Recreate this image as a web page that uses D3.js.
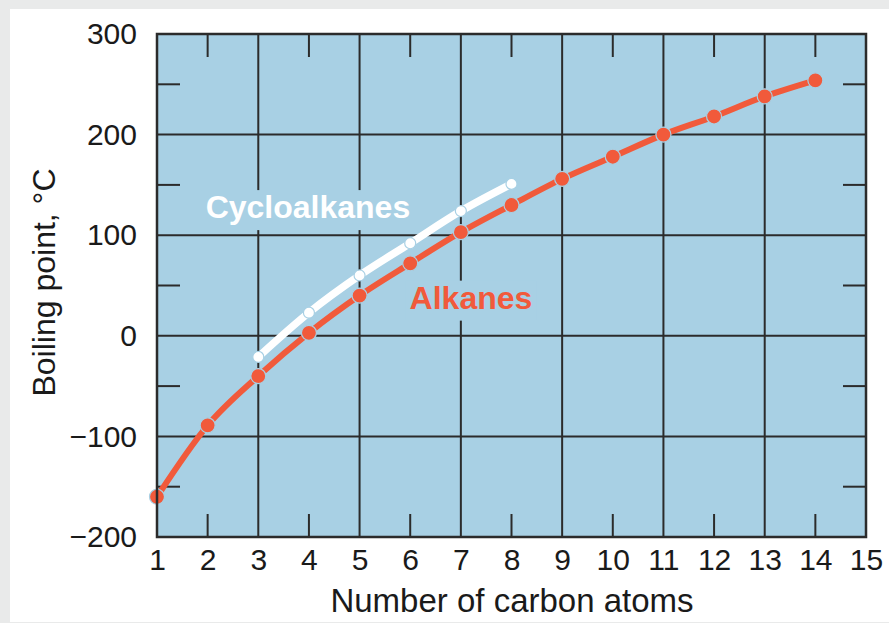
<!DOCTYPE html>
<html>
<head>
<meta charset="utf-8">
<script src="https://d3js.org/d3.v7.min.js"></script>
<style>
  body { margin: 0; background: #e9eaea; }
  svg { display: block; }
  text { font-family: "Liberation Sans", Arial, Helvetica, sans-serif; }
</style>
</head>
<body>
<svg id="chart" width="889" height="623"></svg>
<script>
// carbon counts and boiling points (deg C)
var alkaneCarbons = [1, 2, 3, 4, 5, 6, 7, 8, 9, 10, 11, 12, 13, 14];
var alkaneBoiling = [-160, -89, -40, 3, 40, 72, 103, 130, 156, 178, 200, 218, 238, 254];
var cycloCarbons = [3, 4, 5, 6, 7, 8];
var cycloBoiling = [-21, 23, 60, 92, 124, 151];

var xTickLabels = [1, 2, 3, 4, 5, 6, 7, 8, 9, 10, 11, 12, 13, 14, 15];
var yTickLabels = [300, 200, 100, 0, -100, -200];
var xGridValues = [3, 5, 7, 9, 11, 13];
var yGridValues = [200, 100, 0, -100];
var xMinorValues = [2, 4, 6, 8, 10, 12, 14];
var yMinorValues = [250, 150, 50, -50, -150];

var bgBlue = "#a8d0e4",
  gridCol = "#2b2b2b",
  red = "#f15a3b";

var svg = d3.select("#chart");

// white card on the grey page
svg.append("rect")
  .attr("x", 10).attr("y", 9)
  .attr("width", 889).attr("height", 613)
  .attr("fill", "#ffffff");

var margin = {top: 34, left: 157, right: 23, bottom: 86};
var w = 889 - margin.left - margin.right;
var h = 623 - margin.top - margin.bottom;

var xScale = d3.scaleLinear().domain([1, 15]).range([0, w]);
var yScale = d3.scaleLinear().domain([-200, 300]).range([h, 0]);

var g = svg.append("g")
  .attr("transform", "translate(" + margin.left + "," + margin.top + ")");

// plot background
g.append("rect")
  .attr("width", w).attr("height", h)
  .attr("fill", bgBlue);

// full grid lines
g.selectAll(".vgrid").data(xGridValues).enter().append("line")
  .attr("x1", d => xScale(d)).attr("x2", d => xScale(d))
  .attr("y1", 0).attr("y2", h)
  .attr("stroke", gridCol).attr("stroke-width", 2);
g.selectAll(".hgrid").data(yGridValues).enter().append("line")
  .attr("y1", d => yScale(d)).attr("y2", d => yScale(d))
  .attr("x1", 0).attr("x2", w)
  .attr("stroke", gridCol).attr("stroke-width", 2);

// short inner ticks at the half steps
var tickLen = 23;
xMinorValues.forEach(function(d) {
  g.append("line")
    .attr("x1", xScale(d)).attr("x2", xScale(d))
    .attr("y1", 0).attr("y2", tickLen)
    .attr("stroke", gridCol).attr("stroke-width", 2);
  g.append("line")
    .attr("x1", xScale(d)).attr("x2", xScale(d))
    .attr("y1", h).attr("y2", h - tickLen)
    .attr("stroke", gridCol).attr("stroke-width", 2);
});
yMinorValues.forEach(function(d) {
  g.append("line")
    .attr("y1", yScale(d)).attr("y2", yScale(d))
    .attr("x1", 0).attr("x2", tickLen)
    .attr("stroke", gridCol).attr("stroke-width", 2);
  g.append("line")
    .attr("y1", yScale(d)).attr("y2", yScale(d))
    .attr("x1", w).attr("x2", w - tickLen)
    .attr("stroke", gridCol).attr("stroke-width", 2);
});

// series labels; a blue box behind each one knocks out the grid
function seriesLabel(x, y, txt, color) {
  var box = g.append("rect").attr("fill", bgBlue);
  var t = g.append("text")
    .attr("x", x).attr("y", y)
    .attr("text-anchor", "middle")
    .attr("font-size", 32).attr("font-weight", "bold")
    .attr("fill", color)
    .text(txt);
  var bb = t.node().getBBox();
  box.attr("x", bb.x - 4).attr("y", bb.y + 1)
    .attr("width", bb.width + 8).attr("height", bb.height + 4);
}
seriesLabel(xScale(3.98), yScale(117), "Cycloalkanes", "#ffffff");
seriesLabel(xScale(7.2), yScale(27), "Alkanes", red);

// lines and points
var line = d3.line()
  .curve(d3.curveMonotoneX)
  .x(d => xScale(d[0]))
  .y(d => yScale(d[1]));

function drawSeries(xs, ys, color, lineW, r) {
  var data = xs.map((x, i) => [x, ys[i]]);
  g.append("path")
    .datum(data)
    .attr("d", line)
    .attr("fill", "none")
    .attr("stroke", color)
    .attr("stroke-width", lineW);
  g.selectAll(null).data(data).enter().append("circle")
    .attr("cx", d => xScale(d[0]))
    .attr("cy", d => yScale(d[1]))
    .attr("r", r)
    .attr("fill", color)
    .attr("stroke", bgBlue)
    .attr("stroke-width", 1.2);
}
drawSeries(cycloCarbons, cycloBoiling, "#ffffff", 7.5, 5.5);
drawSeries(alkaneCarbons, alkaneBoiling, red, 6, 7.5);

// frame
g.append("rect")
  .attr("width", w).attr("height", h)
  .attr("fill", "none")
  .attr("stroke", gridCol).attr("stroke-width", 2.5);

// axes labels (no axis lines, the frame does that)
var xAxis = d3.axisBottom(xScale)
  .tickValues(xTickLabels).tickSize(0).tickPadding(12);
var yAxis = d3.axisLeft(yScale)
  .tickValues(yTickLabels).tickSize(0).tickPadding(20)
  .tickFormat(d => d < 0 ? "\u2212" + Math.abs(d) : d);

var gx = g.append("g")
  .attr("transform", "translate(0," + h + ")")
  .call(xAxis);
var gy = g.append("g").call(yAxis);
[gx, gy].forEach(function(a) {
  a.select(".domain").remove();
  a.selectAll("text")
    .attr("font-family", "'Liberation Sans', Arial, sans-serif")
    .attr("font-size", 30)
    .attr("fill", "#1a1a1a");
});

svg.append("text")
  .attr("x", 512).attr("y", 612)
  .attr("text-anchor", "middle")
  .attr("font-size", 33)
  .attr("fill", "#1a1a1a")
  .text("Number of carbon atoms");

svg.append("text")
  .attr("transform", "translate(55," + (margin.top + h / 2 - 3) + ") rotate(-90)")
  .attr("text-anchor", "middle")
  .attr("font-size", 32)
  .attr("fill", "#1a1a1a")
  .text("Boiling point, \u00b0C");
</script>
</body>
</html>
